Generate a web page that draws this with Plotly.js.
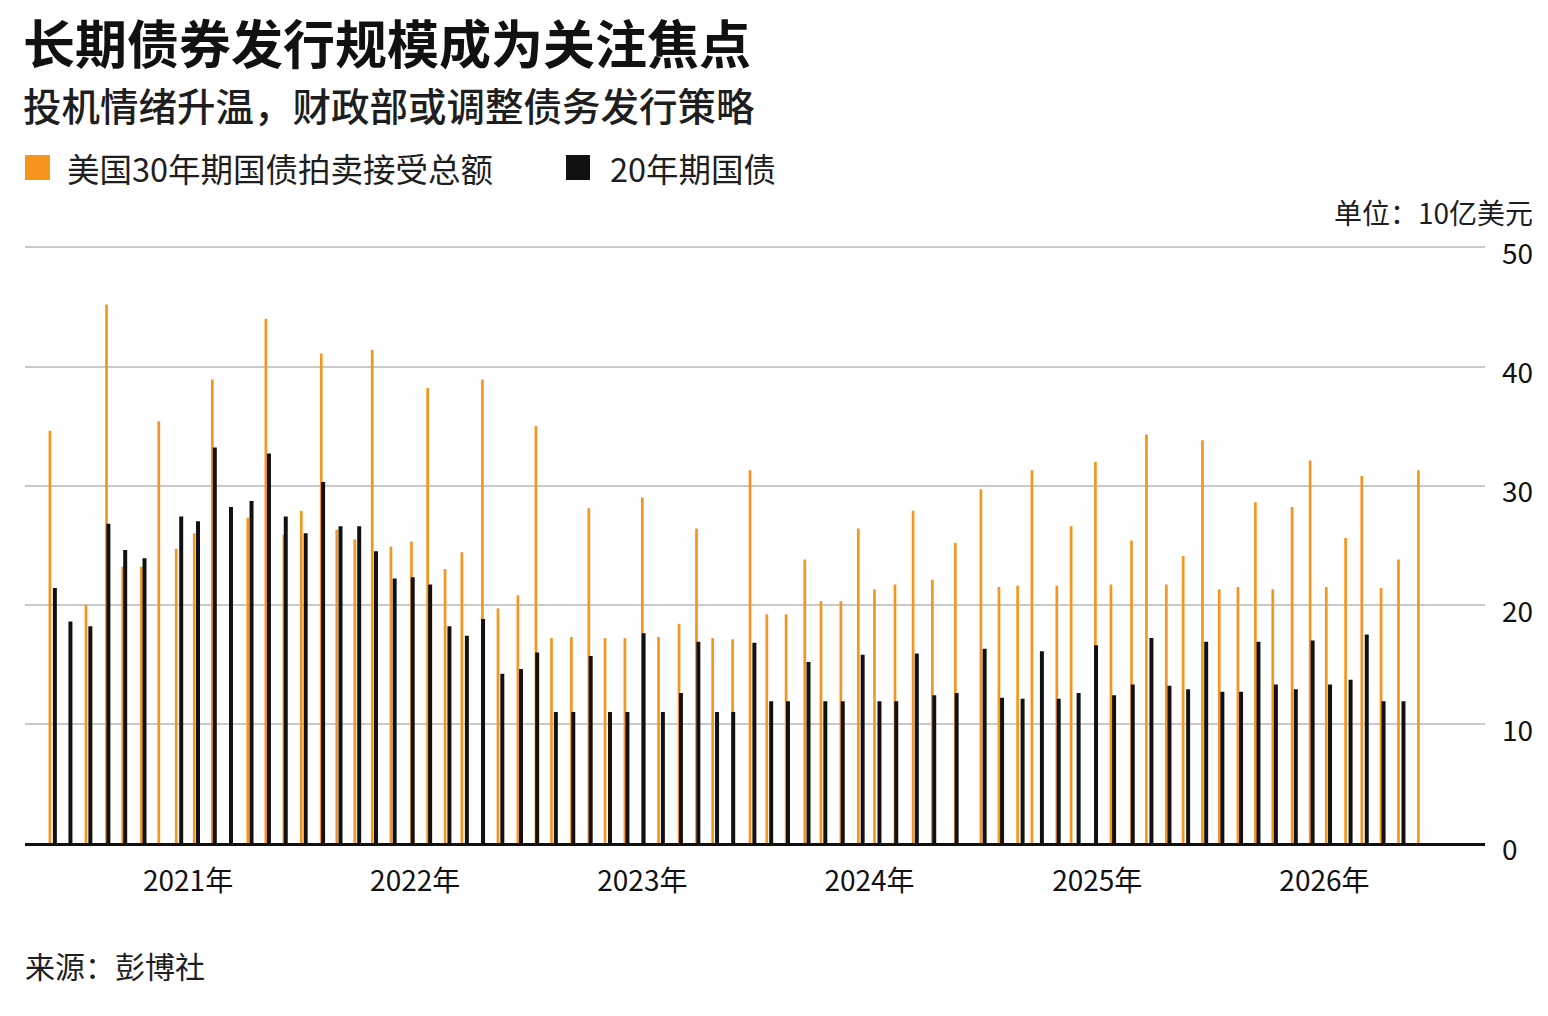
<!DOCTYPE html>
<html>
<head>
<meta charset="utf-8">
<script src="https://cdn.plot.ly/plotly-3.0.1.min.js"></script>
<style>
  body { margin: 0; background: #ffffff; }
  #chart { width: 1548px; height: 1016px; }
</style>
</head>
<body>
<div id="chart"></div>
<script>
// 30-year auction dates and accepted totals (billion USD)
var bond30Dates = [
  "2020-05-24","2020-07-21","2020-08-23","2020-09-18","2020-10-18","2020-11-15","2020-12-13",
  "2021-01-11","2021-02-09","2021-03-10","2021-04-07","2021-05-06","2021-06-04","2021-07-02",
  "2021-08-03","2021-08-28","2021-09-26","2021-10-24","2021-11-23","2021-12-26",
  "2022-01-21","2022-02-18","2022-03-17","2022-04-19","2022-05-14","2022-06-15","2022-07-14",
  "2022-08-08","2022-09-09","2022-10-07","2022-11-02","2022-12-04",
  "2023-01-01","2023-01-27","2023-03-01","2023-03-29","2023-04-24","2023-05-26","2023-06-23",
  "2023-07-20","2023-08-20","2023-09-19","2023-10-15","2023-11-16","2023-12-14",
  "2024-01-09","2024-02-11","2024-03-11","2024-04-11","2024-05-18","2024-06-28","2024-07-27",
  "2024-08-26","2024-09-18","2024-10-28","2024-11-20","2024-12-29",
  "2025-01-23","2025-02-25","2025-03-21","2025-04-22","2025-05-19","2025-06-19","2025-07-16",
  "2025-08-15","2025-09-12","2025-10-10","2025-11-10","2025-12-09",
  "2026-01-04","2026-02-04","2026-03-02","2026-04-02","2026-04-30","2026-06-01"
];
var bond30Values = [
  34.6, 20.0, 45.2, 23.2, 23.2, 35.4, 24.7,
  26.0, 38.9, 25.4, 27.3, 44.0, 25.9, 27.9,
  41.1, 26.3, 25.5, 41.4, 24.9, 25.3,
  38.2, 23.0, 24.4, 38.9, 19.7, 20.8, 35.0,
  17.2, 17.3, 28.1, 17.2, 17.2,
  29.0, 17.3, 18.4, 26.4, 17.2, 17.1, 31.3,
  19.2, 19.2, 23.8, 20.3, 20.3, 26.4,
  21.3, 21.7, 27.9, 22.1, 25.2, 29.7, 21.5,
  21.6, 31.3, 21.6, 26.6, 32.0,
  21.7, 25.4, 34.3, 21.7, 24.1, 33.8, 21.3,
  21.5, 28.6, 21.3, 28.2, 32.1,
  21.5, 25.6, 30.8, 21.4, 23.8, 31.3
];

// 20-year auction dates and totals
var bond20Dates = [
  "2020-06-01","2020-06-26","2020-07-28","2020-08-26","2020-09-22","2020-10-23","2020-12-21",
  "2021-01-17","2021-02-13","2021-03-11","2021-04-13","2021-05-11","2021-06-07","2021-07-09",
  "2021-08-06","2021-09-03","2021-10-03","2021-10-30","2021-11-29","2021-12-28",
  "2022-01-25","2022-02-25","2022-03-25","2022-04-20","2022-05-21","2022-06-20","2022-07-16",
  "2022-08-15","2022-09-12","2022-10-10","2022-11-10","2022-12-08",
  "2023-01-03","2023-02-03","2023-03-04","2023-04-01","2023-05-01","2023-05-27","2023-06-30",
  "2023-07-27","2023-08-23","2023-09-25","2023-10-22","2023-11-19","2023-12-21",
  "2024-01-17","2024-02-13","2024-03-17","2024-04-14","2024-05-20","2024-07-04","2024-08-01",
  "2024-09-03","2024-10-04","2024-10-31","2024-12-02","2024-12-30",
  "2025-01-28","2025-02-27","2025-03-29","2025-04-27","2025-05-27","2025-06-25","2025-07-21",
  "2025-08-20","2025-09-17","2025-10-15","2025-11-16","2025-12-13",
  "2026-01-10","2026-02-12","2026-03-10","2026-04-06","2026-05-08"
];
var bond20Values = [
  21.4, 18.6, 18.2, 26.8, 24.6, 23.9, 27.4,
  27.0, 33.2, 28.2, 28.7, 32.7, 27.4, 26.0,
  30.3, 26.6, 26.6, 24.5, 22.2, 22.3,
  21.7, 18.2, 17.4, 18.8, 14.2, 14.6, 16.0,
  11.0, 11.0, 15.7, 11.0, 11.0,
  17.6, 11.0, 12.6, 16.9, 11.0, 11.0, 16.8,
  11.9, 11.9, 15.2, 11.9, 11.9, 15.8,
  11.9, 11.9, 15.9, 12.4, 12.6, 16.3, 12.2,
  12.1, 16.1, 12.1, 12.6, 16.6,
  12.4, 13.3, 17.2, 13.2, 12.9, 16.9, 12.7,
  12.7, 16.9, 13.3, 12.9, 17.0,
  13.3, 13.7, 17.5, 11.9, 11.9
];

var yearTicks = ["2021-01-01","2022-01-01","2023-01-01","2024-01-01","2025-01-01","2026-01-01"];
var yearLabels = ["2021年","2022年","2023年","2024年","2025年","2026年"];

var ORANGE = "#f7941d";
var BLACK = "#111111";
var FONT = "Noto Sans CJK SC, Noto Sans, sans-serif";
var DAY = 86400000;

// plot area: 1460 x 598 px, so paper units are converted from pixel offsets
var PW = 1460, PH = 598, BASE = 843;
function py(pix) { return (BASE - pix) / PH; }

var bar30 = {
  type: "bar", x: bond30Dates, y: bond30Values,
  width: 4.3 * DAY,
  marker: {color: ORANGE, line: {width: 0}},
  name: "美国30年期国债拍卖接受总额", showlegend: false, hoverinfo: "x+y"
};
var bar20 = {
  type: "bar", x: bond20Dates, y: bond20Values,
  width: 6.4 * DAY,
  marker: {color: BLACK, line: {width: 0}},
  name: "20年期国债", showlegend: false, hoverinfo: "x+y"
};

var layout = {
  width: 1548, height: 1016,
  margin: {l: 25, r: 63, t: 245, b: 173},
  paper_bgcolor: "#ffffff", plot_bgcolor: "#ffffff",
  font: {family: FONT, color: BLACK},
  barmode: "overlay",
  xaxis: {
    type: "date",
    range: ["2020-04-14", "2026-09-16"],
    tickvals: yearTicks, ticktext: yearLabels,
    tickfont: {size: 28, color: BLACK},
    ticks: "", showgrid: false, zeroline: false,
    showline: true, linecolor: BLACK, linewidth: 2.5,
    ticklabelstandoff: 12
  },
  yaxis: {
    side: "right",
    range: [0, 50.2],
    tickvals: [0, 10, 20, 30, 40, 50],
    tickfont: {size: 28, color: BLACK},
    ticks: "", showline: false,
    showgrid: true, gridcolor: "#c9c9c9", gridwidth: 2,
    zeroline: false,
    ticklabelstandoff: 16, ticklabelshift: 7
  },
  shapes: [
    {type: "rect", xref: "paper", yref: "paper", x0: 0, x1: 25 / PW, y0: py(180), y1: py(155),
     fillcolor: ORANGE, line: {width: 0}},
    {type: "rect", xref: "paper", yref: "paper", x0: 541 / PW, x1: 565 / PW, y0: py(180), y1: py(155),
     fillcolor: BLACK, line: {width: 0}}
  ],
  annotations: [
    {text: "<b>长期债券发行规模成为关注焦点</b>", xref: "paper", yref: "paper",
     x: -4 / PW, y: py(42), xanchor: "left", yanchor: "middle", showarrow: false,
     font: {size: 52, color: BLACK}},
    {text: "投机情绪升温，财政部或调整债务发行策略", xref: "paper", yref: "paper",
     x: -4 / PW, y: py(104), xanchor: "left", yanchor: "middle", showarrow: false,
     font: {size: 38.5, color: "#1e1e1e", weight: 500}},
    {text: "美国30年期国债拍卖接受总额", xref: "paper", yref: "paper",
     x: 40 / PW, y: py(167), xanchor: "left", yanchor: "middle", showarrow: false,
     font: {size: 32.5, color: "#1e1e1e"}},
    {text: "20年期国债", xref: "paper", yref: "paper",
     x: 583 / PW, y: py(167), xanchor: "left", yanchor: "middle", showarrow: false,
     font: {size: 32.5, color: "#1e1e1e"}},
    {text: "单位：10亿美元", xref: "paper", yref: "paper",
     x: 1510 / PW, y: py(212), xanchor: "right", yanchor: "middle", showarrow: false,
     font: {size: 28, color: "#1e1e1e"}},
    {text: "来源：彭博社", xref: "paper", yref: "paper",
     x: -2 / PW, y: py(965), xanchor: "left", yanchor: "middle", showarrow: false,
     font: {size: 30, color: "#1e1e1e"}}
  ]
};

Plotly.newPlot("chart", [bar30, bar20], layout, {staticPlot: true});
</script>
</body>
</html>
